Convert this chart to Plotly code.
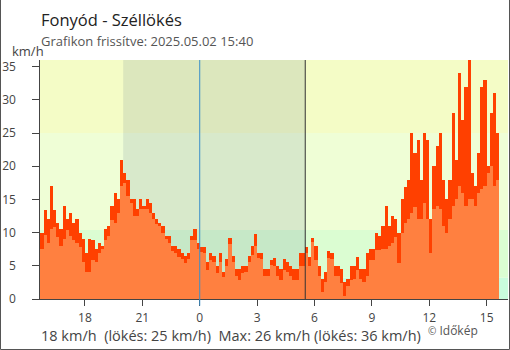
import pandas as pd
import plotly.graph_objects as go

# ---------------- data (10-minute steps from 2025-05-01 15:40) ----------------
start_time = "2025-05-01 15:40"
step_minutes = 10

speed = [7.5, 9.6, 8.5, 10.5, 10.9, 9.4, 8, 9, 10.4, 9.5,
         8.9, 8.5, 7.9, 5.5, 4, 4, 5.9, 5.5, 6.9, 7.5,
         8.9, 9.5, 11.9, 11.5, 13, 17, 17.5, 15.5, 14.5, 12.5,
         12.5, 13.5, 13.6, 13.5, 13, 12, 11.3, 11, 10, 9,
         8.5, 7.3, 7, 6.4, 6, 5.4, 6, 8.9, 8.9, 7.5,
         7.1, 7, 4.4, 5.9, 5.5, 3.9, 5.6, 3.3, 5, 8.3,
         5.5, 3.5, 2.9, 3.9, 4, 5.5, 6.6, 8, 6.2, 6,
         3.5, 3.5, 5.1, 4.9, 3.5, 2.9, 4.4, 4, 3.4, 2.9,
         2.9, 4.9, 4.9, 6.9, 5, 8.6, 5.9, 3.4, 1.0, 2.5,
         6.2, 6, 3.4, 3.4, 2.4, 0.5, 1.9, 2.9, 3, 4.4,
         3, 2.5, 3.4, 5.9, 5.9, 7.4, 7.4, 7.5, 7.5, 8,
         8.5, 9.4, 5.4, 10, 11.4, 12, 13, 13.8, 12, 12,
         14.5, 12, 7, 13.5, 14, 13.5, 11, 10, 12, 14,
         15, 17, 16, 14, 15, 15, 14, 16, 16.5, 17,
         19, 20, 17, 18]

gust = [10, 13.4, 12, 17, 13.4, 11.5, 10.5, 14, 12, 13,
        11.5, 12, 10, 9, 7, 9, 8.9, 7.5, 8.5, 8,
        10.5, 11, 14, 16, 15, 21, 19, 18, 15, 15,
        13.5, 15, 14, 15, 14.5, 13, 12, 11.5, 11, 9.5,
        9.5, 8, 8, 7.5, 7, 6.5, 6.9, 9.5, 10.5, 8.5,
        7.9, 7.9, 5.5, 6.9, 6.5, 5, 7, 4, 6, 9.2,
        6.5, 4.5, 4.5, 4.9, 4.9, 6.5, 8, 9.8, 6.9, 6.9,
        4.5, 4.5, 5.9, 6.2, 5, 4.5, 6, 5.5, 5, 4.5,
        4.5, 6.9, 6.9, 7.9, 6.4, 9.2, 8, 5, 3, 4,
        7.3, 7, 5, 5, 4.5, 2.5, 3, 5, 5, 6.4,
        4.5, 4.5, 7, 7.5, 7.5, 10, 9.5, 11, 14, 11,
        12.5, 12, 10, 15, 16.9, 18, 25, 22, 24, 18,
        25, 24, 12, 20, 23, 25, 18, 15, 18, 28,
        21, 34, 27, 32, 36, 19, 17, 22, 32, 33,
        20, 28, 31, 25]

tick_vals = ["2025-05-01 18:00", "2025-05-01 21:00", "2025-05-02 00:00",
             "2025-05-02 03:00", "2025-05-02 06:00", "2025-05-02 09:00",
             "2025-05-02 12:00", "2025-05-02 15:00"]
tick_text = ["18", "21", "0", "3", "6", "9", "12", "15"]

x_range = ["2025-05-01 15:39", "2025-05-02 16:07"]
y_range = [0, 36]

night_start = "2025-05-01 20:00"
night_end = "2025-05-02 05:31"
midnight = "2025-05-02 00:00"

band_edges = [0, 3.2, 10.4, 25, 36]
band_colors = ["#c9fcdd", "#dbfdd2", "#effed6", "#f4fcc6"]

title_text = "Fonyód - Széllökés"
subtitle_text = "Grafikon frissítve: 2025.05.02 15:40"
unit_text = "km/h"
footer_text = "18 km/h  (lökés: 25 km/h)  Max: 26 km/h (lökés: 36 km/h)"
credit_text = "<span style='font-size:10px'>©</span> Időkép"

# ---------------- figure ----------------
times = pd.date_range(start_time, periods=len(speed), freq=f"{step_minutes}min")
bar_w = step_minutes * 60 * 1000

fig = go.Figure()
fig.add_trace(go.Bar(x=times, y=gust, width=bar_w, offset=0,
                     marker=dict(color="#ff4000", line=dict(width=0)),
                     hoverinfo="skip", showlegend=False))
fig.add_trace(go.Bar(x=times, y=speed, width=bar_w, offset=0,
                     marker=dict(color="#ff8040", line=dict(width=0)),
                     hoverinfo="skip", showlegend=False))

shapes = []
for i in range(len(band_colors)):
    shapes.append(dict(type="rect", xref="paper", yref="y", x0=0, x1=1,
                       y0=band_edges[i], y1=band_edges[i + 1],
                       fillcolor=band_colors[i], line=dict(width=0), layer="below"))
shapes.append(dict(type="rect", xref="x", yref="paper", x0=night_start, x1=night_end,
                   y0=0, y1=1, fillcolor="rgba(60,90,130,0.13)",
                   line=dict(width=0), layer="below"))
shapes.append(dict(type="line", xref="x", yref="paper", x0=midnight, x1=midnight,
                   y0=-0.028, y1=1, line=dict(color="#3a8fc8", width=1)))
shapes.append(dict(type="line", xref="x", yref="paper", x0=night_end, x1=night_end,
                   y0=0, y1=1, line=dict(color="#333333", width=1)))
# outer frame (left, bottom, right)
PW, PH, ML, MB = 468, 239, 40, 51
fx0 = -(ML - 0.5) / PW
fx1 = (510 - ML - 0.5) / PW
fy0 = -(MB - 0.5) / PH
fy1 = (350 - MB) / PH
shapes.append(dict(type="path", xref="paper", yref="paper",
                   path=f"M {fx0} {fy1} L {fx0} {fy0} L {fx1} {fy0} L {fx1} {fy1}",
                   line=dict(color="#555555", width=1)))


def py(pix):
    return (299 - pix) / PH


def px(pix):
    return (pix - ML) / PW


font = "Open Sans, Noto Sans, sans-serif"
annotations = [
    dict(text=title_text, x=px(39), y=py(19), xref="paper", yref="paper",
         xanchor="left", yanchor="middle", showarrow=False,
         font=dict(size=16.5, color="#222222", family=font)),
    dict(text=subtitle_text, x=px(39), y=py(41), xref="paper", yref="paper",
         xanchor="left", yanchor="middle", showarrow=False,
         font=dict(size=13, color="#555555", family=font)),
    dict(text=unit_text, x=px(27.5), y=py(51), xref="paper", yref="paper",
         xanchor="center", yanchor="middle", showarrow=False,
         font=dict(size=13, color="#444444", family=font)),
    dict(text=footer_text, x=px(39), y=py(335), xref="paper", yref="paper",
         xanchor="left", yanchor="middle", showarrow=False,
         font=dict(size=14.5, color="#444444", family=font)),
    dict(text=credit_text, x=px(426), y=py(330), xref="paper", yref="paper",
         xanchor="left", yanchor="middle", showarrow=False,
         font=dict(size=12, color="#555555", family=font)),
]

fig.update_layout(
    width=510, height=350,
    margin=dict(l=ML, r=2, t=60, b=MB),
    paper_bgcolor="white", plot_bgcolor="white",
    barmode="overlay", bargap=0,
    shapes=shapes, annotations=annotations,
    font=dict(family=font, color="#444444", size=12),
    xaxis=dict(type="date", range=x_range, tickvals=tick_vals, ticktext=tick_text,
               automargin=False,
               showgrid=False, zeroline=False, showline=True, linecolor="#444444",
               linewidth=1, ticks="outside", ticklen=6, tickcolor="#444444",
               ticklabelstandoff=2,
               tickfont=dict(size=12, color="#444444")),
    yaxis=dict(range=y_range, dtick=5, showgrid=False, zeroline=False,
               automargin=False,
               showline=True, linecolor="#444444", linewidth=1,
               ticks="outside", ticklen=7, tickcolor="#444444",
               ticksuffix="\u2007\u2007",
               tickfont=dict(size=12, color="#444444")),
    yaxis2=dict(range=y_range, dtick=5, overlaying="y", anchor="x", side="left",
                automargin=False,
                showgrid=False, zeroline=False, showline=False,
                ticks="inside", ticklen=7, tickcolor="#444444",
                showticklabels=False),
)

fig.write_html("out.html")
